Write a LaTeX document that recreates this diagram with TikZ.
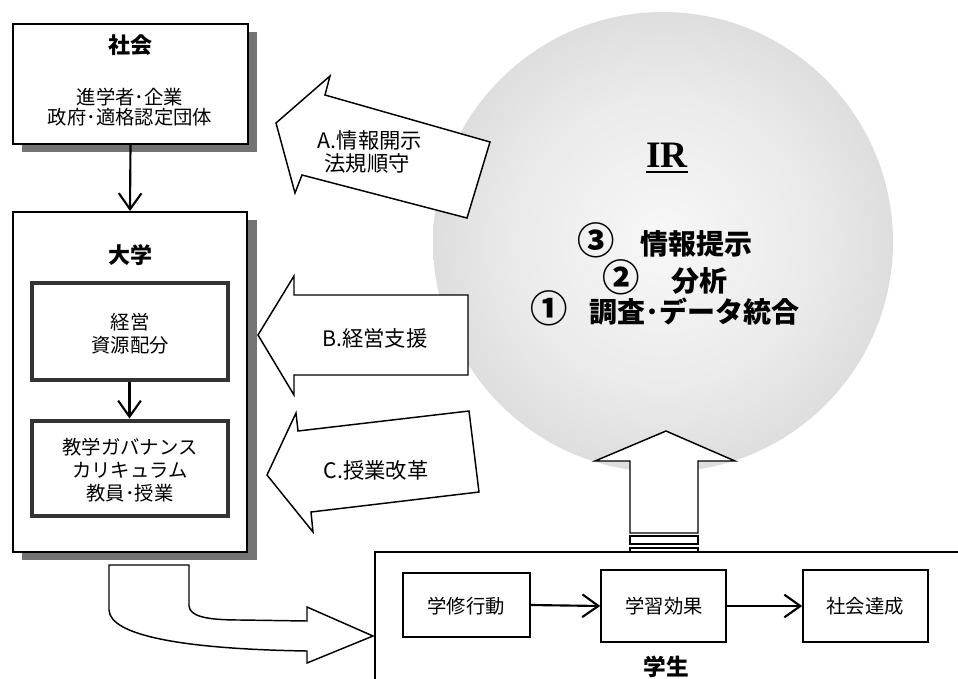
\documentclass[tikz,border=0pt]{standalone}
\usepackage{fontspec}
\usetikzlibrary{arrows.meta,fit}
\newfontfamily\jp{Noto Sans CJK JP}
\newfontfamily\irfont{Liberation Serif}
\pgfdeclareradialshading{irshade}{\pgfpoint{0bp}{0bp}}{color(0bp)=(gray!6); color(16bp)=(gray!16); color(34bp)=(gray!36); color(50bp)=(gray!50)}
\newcommand{\bigdigit}[1]{{\fontsize{28pt}{28pt}\selectfont #1}}
\begin{document}
\begin{tikzpicture}[x=0.75pt,y=-0.75pt,
  box/.style={draw, line width=1.4pt, fill=white, inner sep=0pt},
  inbox/.style={draw=black!80, line width=3pt, fill=white, inner sep=0pt},
  sbox/.style={draw, line width=1.2pt, fill=white, inner sep=0pt},
  shadowfill/.style={fill=black!55},
  blockarrow/.style={draw, line width=1.1pt, fill=white, line join=miter},
  conn/.style={line width=1.6pt, -{Straight Barb[length=12pt,width=17pt,line width=1.6pt]}},
  txt/.style={font=\jp\fontsize{14.5pt}{17.25pt}\selectfont, align=center, inner sep=0pt},
  ttl/.style={font=\jp\bfseries\fontsize{16.5pt}{19pt}\selectfont, inner sep=0pt},
  atxt/.style={font=\jp\fontsize{16pt}{19pt}\selectfont, inner sep=0pt},
  irtxt/.style={font=\jp\bfseries\fontsize{21pt}{25pt}\selectfont, inner sep=0pt}
]
\clip (0,0) rectangle (958,679);
\fill[white] (0,0) rectangle (958,679);

% shadows
\fill[shadowfill] (22,32) rectangle (257,152);
\fill[shadowfill] (22,220) rectangle (257,560);

% Society box
\node[box, fit={(13,24)(248,144)}] (shakai) {};
\node[ttl] (shakaiT) at (130,45) {社会};
\node[txt] (shakaiL1) at (130,97) {進学者･企業};
\node[txt] (shakaiL2) at (130,117) {政府･適格認定団体};

% University box
\node[box, fit={(13,212)(247,552)}] (daigaku) {};
\node[ttl] (daigakuT) at (130,255) {大学};
\node[inbox, fit={(31.5,282.5)(227.5,379.5)}] (keiei) {};
\node[txt] (keieiL1) at (130,322) {経営};
\node[txt] (keieiL2) at (130,345) {資源配分};
\node[inbox, fit={(31.5,420.5)(227.5,515.5)}] (kyougaku) {};
\node[txt] (kyougakuL1) at (130,447) {教学ガバナンス};
\node[txt] (kyougakuL2) at (130,470) {カリキュラム};
\node[txt] (kyougakuL3) at (130,493) {教員･授業};

\draw[conn] (shakai.south) -- (daigaku.north);
\draw[conn] (keiei.south) -- (kyougaku.north);

% IR circle
\node[circle, minimum size=345pt, inner sep=0pt, shading=irshade] (ir) at (663,242) {};

% Block arrows A, B, C
\draw[blockarrow] (276,123) -- (330,76) -- (325,95) -- (490,142) -- (467,218) -- (302,175) -- (295,193) -- cycle;
\node[atxt] (aL1) at (370,140) {A.情報開示};
\node[atxt] (aL2) at (367,163) {法規順守};

\draw[blockarrow] (258,335) -- (294,276) -- (294,295) -- (468,295) -- (468,375) -- (294,375) -- (294,395) -- cycle;
\node[atxt] (bL) at (375,338) {B.経営支援};

\draw[blockarrow] (267,475) -- (296,413) -- (298,431) -- (469,411) -- (479,492) -- (311,512) -- (313,532) -- cycle;
\node[atxt] (cL) at (376,470) {C.授業改革};

% IR text
\node[font=\irfont\bfseries\fontsize{28pt}{30pt}\selectfont, inner sep=0pt, anchor=base] (irT) at (667,167) {IR};
\draw[line width=1.4pt] ([yshift=-3.5pt]irT.base west) -- ([yshift=-3.5pt]irT.base east);
\node[irtxt] (ir3) at (665,240) {\bigdigit{③}\hspace{0.9em}情報提示};
\node[irtxt] (ir2) at (665,277) {\bigdigit{②}\hspace{1.1em}分析};
\node[irtxt] (ir1) at (665,308) {\bigdigit{①}\hspace{0.8em}調査･データ統合};

% Up arrow from students to IR
\draw[blockarrow] (666,431) -- (735,461) -- (698,461) -- (698,533) -- (630,533) -- (630,461) -- (595,461) -- cycle;
\draw[line width=0.9pt, fill=white] (630,536) rectangle (698,544);
\draw[line width=0.9pt, fill=white] (630,548) rectangle (698,556);

% Student box
\node[box, fit={(375,552)(975,700)}] (gakusei) {};
\node[sbox, fit={(403,573)(530,637)}] (shuugaku) {};
\node[sbox, fit={(601,570)(726,642)}] (kouka) {};
\node[sbox, fit={(803,570)(928,642)}] (tassei) {};
\node[txt] (shuugakuT) at (466,606) {学修行動};
\node[txt] (koukaT) at (664,606) {学習効果};
\node[txt] (tasseiT) at (865,606) {社会達成};
\node[ttl, font=\jp\bfseries\fontsize{17pt}{19pt}\selectfont] (gakuseiT) at (666,667) {学生};
\draw[conn] (shuugaku.east) -- (kouka.west);
\draw[conn] (kouka.east) -- (tassei.west);

% Curved block arrow from university to students
\draw[blockarrow] (109,565) -- (189,565) -- (189,606)
  .. controls (190,616) and (205,620) .. (240,620) -- (307,621)
  -- (307,607) -- (373,636) -- (307,663) -- (307,651)
  .. controls (180,649) and (110,635) .. (109,610) -- cycle;
\end{tikzpicture}
\end{document}
